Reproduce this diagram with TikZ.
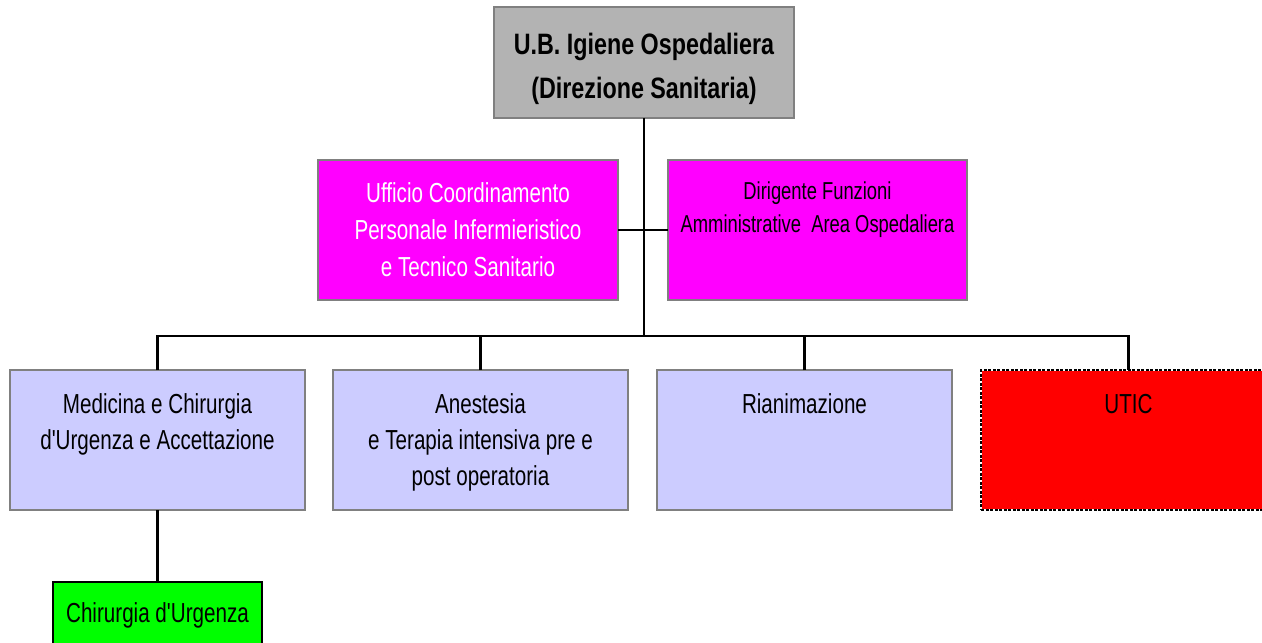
\documentclass[tikz,border=0pt]{standalone}
\usepackage{fontspec}
\setmainfont{Liberation Sans}
\newfontfamily\bodyfont{Liberation Sans}[FakeStretch=0.75]
\newfontfamily\headfont{Liberation Sans}[FakeStretch=0.79]
\definecolor{topgray}{RGB}{179,179,179}
\definecolor{bordergray}{RGB}{128,128,128}
\definecolor{lavender}{RGB}{204,204,255}
\definecolor{magentabox}{RGB}{255,0,255}
\definecolor{greenbox}{RGB}{0,255,0}
\definecolor{redbox}{RGB}{255,0,0}
\newcommand{\boxtxt}[4]{\parbox[c][#2][t]{#1}{\centering\rule{0pt}{#3}#4\par}}
\tikzset{
  box/.style={rectangle, inner sep=0pt, outer sep=0pt, line width=2.5pt, anchor=north west, draw=bordergray},
  conn/.style={draw=black, line width=2.5pt}
}
\begin{document}
\begin{tikzpicture}[x=1pt,y=-1pt]
\path[use as bounding box] (0,0) rectangle (1262,643);
\clip (0,0) rectangle (1262,643);
% top box
\node[box, fill=topgray] (top) at (494,7)
  {\headfont\bfseries\fontsize{29.5}{44}\selectfont\boxtxt{300pt}{111pt}{47pt}{U.B. Igiene Ospedaliera\\(Direzione Sanitaria)}};
% staff boxes
\node[box, fill=magentabox, text=white] (magL) at (318,160)
  {\bodyfont\fontsize{27.5}{37}\selectfont\boxtxt{300pt}{140pt}{42pt}{Ufficio Coordinamento\\Personale Infermieristico\\e Tecnico Sanitario}};
\node[box, fill=magentabox] (magR) at (668,160)
  {\bodyfont\fontsize{24.5}{33}\selectfont\boxtxt{299pt}{140pt}{39pt}{Dirigente Funzioni\\Amministrative\ \ Area Ospedaliera}};
% lower boxes
\node[box, fill=lavender] (m1) at (10,370)
  {\bodyfont\fontsize{27.5}{36}\selectfont\boxtxt{295pt}{140pt}{43pt}{Medicina e Chirurgia\\d'Urgenza e Accettazione}};
\node[box, fill=lavender] (m2) at (333,370)
  {\bodyfont\fontsize{27.5}{36}\selectfont\boxtxt{295pt}{140pt}{43pt}{Anestesia\\e Terapia intensiva pre e\\post operatoria}};
\node[box, fill=lavender] (m3) at (657,370)
  {\bodyfont\fontsize{27.5}{36}\selectfont\boxtxt{295pt}{140pt}{43pt}{Rianimazione}};
\node[box, fill=redbox, draw=white, postaction={draw=black, line width=2.5pt, dash pattern=on 3pt off 1.5pt}] (m4) at (981,370)
  {\bodyfont\fontsize{27.5}{36}\selectfont\boxtxt{295pt}{140pt}{43pt}{UTIC}};
% green box
\node[box, fill=greenbox, draw=black] (green) at (53,582)
  {\bodyfont\fontsize{27.5}{36}\selectfont\boxtxt{209pt}{80pt}{40pt}{Chirurgia d'Urgenza}};
% connectors
\coordinate (bus) at (top.south |- 0,336);
\draw[conn] (top.south) -- (bus);
\draw[conn] (magL.east) -- (magR.west);
\draw[conn] (m1.north) |- (m4.north |- bus) -- (m4.north);
\draw[conn] (m2.north) -- (m2.north |- bus);
\draw[conn] (m3.north) -- (m3.north |- bus);
\draw[conn] (m1.south) -- (green.north);
\end{tikzpicture}
\end{document}
